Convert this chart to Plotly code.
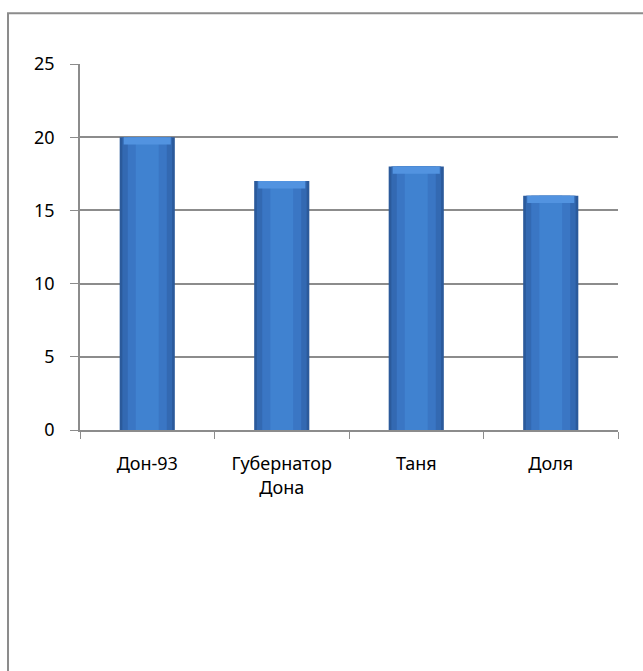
import plotly.graph_objects as go

categories = ["Дон-93", "Губернатор<br>Дона", "Таня", "Доля"]
values = [20, 17, 18, 16]
y_ticks = [0, 5, 10, 15, 20, 25]

fig = go.Figure()
# layered bars to mimic cylinder-like shading
layers = [(0.41, "#2B5A9B"), (0.37, "#3369B2"), (0.29, "#3A76C4"), (0.17, "#4082D0")]
for w, c in layers:
    fig.add_trace(go.Bar(x=categories, y=values, width=w, marker=dict(color=c, line=dict(width=0)),
                         hoverinfo="y", showlegend=False))
# lighter bevel strip at top of each bar
cap = 0.5
fig.add_trace(go.Bar(x=categories, y=[cap] * len(values), base=[v - cap for v in values], width=0.35,
                     marker=dict(color="#5293E0", line=dict(width=0)), hoverinfo="skip", showlegend=False))

fig.update_layout(
    barmode="overlay",
    width=643, height=671,
    margin=dict(l=80, r=25, t=64, b=241),
    paper_bgcolor="white", plot_bgcolor="white",
    font=dict(family="Noto Sans, Liberation Sans, sans-serif", size=18, color="#000000"),
    showlegend=False,
    shapes=[dict(type="rect", xref="paper", yref="paper", x0=-0.1338, x1=1.2, y0=-0.7, y1=1.139,
                 line=dict(color="#8C8C8C", width=2), fillcolor="rgba(0,0,0,0)", layer="below")],
)
fig.update_yaxes(range=[0, 25], tickvals=y_ticks, showgrid=True, gridcolor="#8C8C8C", gridwidth=1.5,
                 showline=True, linecolor="#8C8C8C", linewidth=1.5, ticks="outside", ticklen=8,
                 tickcolor="#8C8C8C", zeroline=False, fixedrange=True, ticklabelstandoff=12)
fig.update_xaxes(showline=True, linecolor="#8C8C8C", linewidth=1.5, ticks="outside", ticklen=7,
                 tickcolor="#8C8C8C", tickson="boundaries", showgrid=False, fixedrange=True,
                 ticklabelstandoff=17)

fig.write_html("out.html")
